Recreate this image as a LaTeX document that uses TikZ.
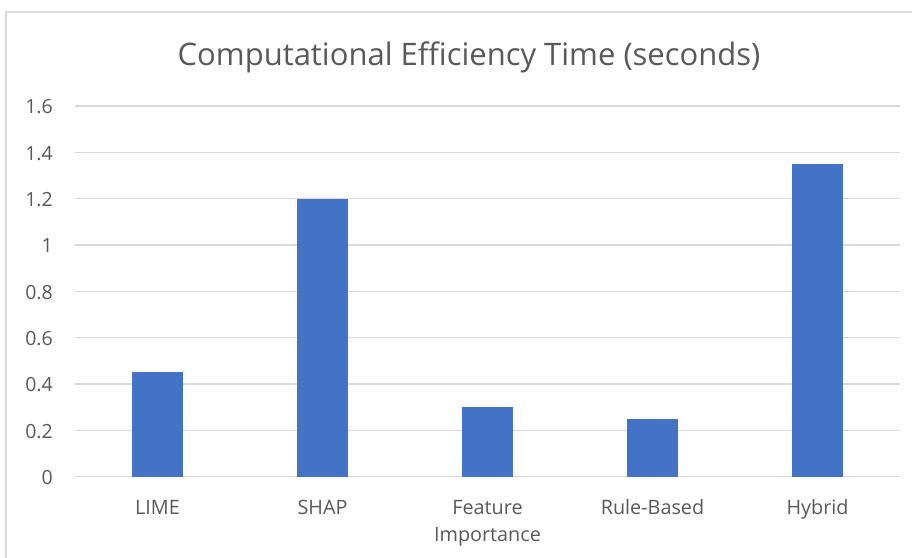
\documentclass[tikz,border=0pt]{standalone}
\usepackage{fontspec}
\setmainfont{Open Sans}
\definecolor{gridgray}{HTML}{D9D9D9}
\definecolor{textgray}{HTML}{595959}
\definecolor{barblue}{HTML}{4472C4}
\tikzset{
  frame/.style={draw=gridgray, line width=1.2pt},
  gridline/.style={draw=gridgray, line width=1.4pt},
  bar/.style={fill=barblue},
  ticklabel/.style={text=textgray, anchor=base east, inner sep=0pt, font=\fontsize{19.5}{22}\selectfont},
  catlabel/.style={text=textgray, anchor=base, inner sep=0pt, font=\fontsize{19.8}{22}\selectfont},
  charttitle/.style={text=textgray, anchor=base, inner sep=0pt, font=\fontsize{31}{36}\selectfont}
}
\begin{document}
\begin{tikzpicture}[x=1pt, y=-1pt]
  \useasboundingbox (0,0) rectangle (912,557);
  \clip (0,0) rectangle (912,557);
  \fill[white] (0,0) rectangle (912,557);
  % chart area border (runs off the right and bottom edges)
  \draw[frame] (6,12) rectangle (940,590);
  % title
  \node[charttitle] (title) at (469,65) {Computational Efficiency Time (seconds)};
  % horizontal grid lines and value axis labels
  \foreach \v/\t in {0/0, 1/0.2, 2/0.4, 3/0.6, 4/0.8, 5/1, 6/1.2, 7/1.4, 8/1.6} {
    \draw[gridline] (75, {476.7 - \v*46.34}) -- (900, {476.7 - \v*46.34});
    \node[ticklabel] (tick\v) at (53, {476.7 - \v*46.34 + 7.7}) {\t};
  }
  % bars: one unit of value = 231.7 px
  \foreach \c/\val in {157.5/0.45, 322.5/1.2, 487.5/0.3, 652.5/0.25, 817.5/1.35} {
    \fill[bar] ({\c-25.5}, 476.7) rectangle ({\c+25.5}, {476.7 - \val*231.7});
  }
  % category labels
  \node[catlabel] (catA) at (157.5, 514) {LIME};
  \node[catlabel] (catB) at (322.5, 514) {SHAP};
  \node[catlabel] (catC) at (487.5, 514) {Feature};
  \node[catlabel] (catC2) at (487.5, 541.7) {Importance};
  \node[catlabel] (catD) at (652.5, 514) {Rule-Based};
  \node[catlabel] (catE) at (817.5, 514) {Hybrid};
\end{tikzpicture}
\end{document}
